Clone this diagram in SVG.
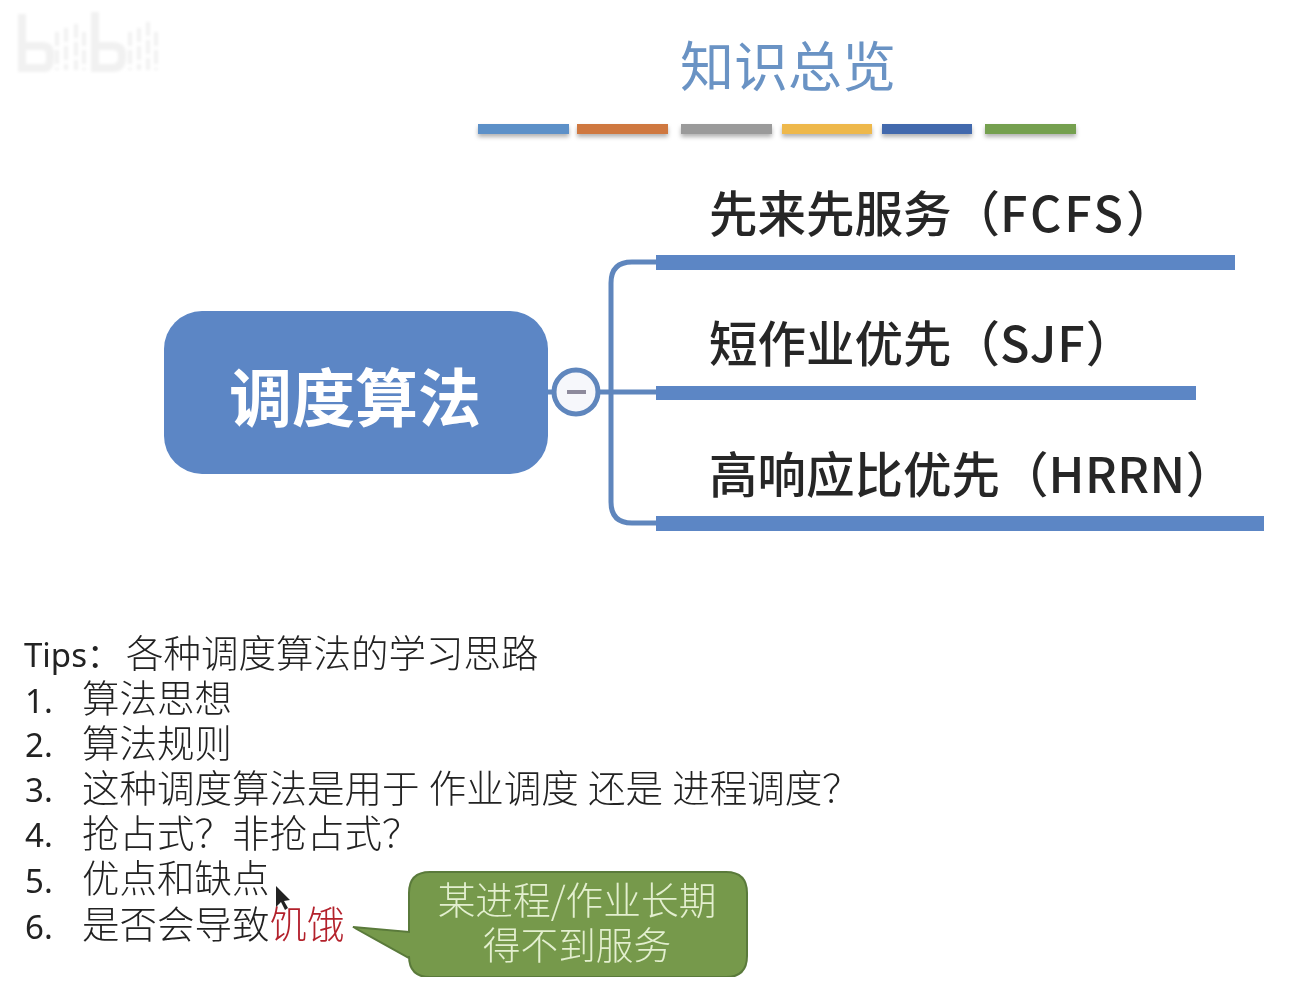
<svg xmlns="http://www.w3.org/2000/svg" width="1306" height="990" viewBox="0 0 1306 990">
<style>
text{font-family:"Noto Sans CJK SC","Noto Sans",sans-serif}
.branch{font-size:48.5px;fill:#262626;font-weight:500}
.tip{font-size:37.5px;fill:#222;font-weight:300}
.num{font-family:"Noto Sans","Noto Sans CJK SC",sans-serif;font-size:33px;fill:#222;font-weight:400}
.bar{filter:url(#sh)}
.link{fill:none;stroke:#5f86bd;stroke-width:5}
.ul{fill:#5b86c5}
.call{font-size:37.7px;fill:#e3efcf;font-weight:300;text-anchor:middle}
</style>
<defs>
<filter id="sh" x="-10%" y="-60%" width="120%" height="260%"><feDropShadow dx="0" dy="3" stdDeviation="2" flood-color="#000" flood-opacity=".3"/></filter>
<filter id="bl" x="-10%" y="-10%" width="120%" height="120%"><feGaussianBlur stdDeviation="1.5"/></filter>
<filter id="soft" x="0" y="0" width="100%" height="100%"><feGaussianBlur stdDeviation=".5"/></filter>
</defs>
<rect width="1306" height="990" fill="#fff"/>
<g id="watermark" filter="url(#bl)" fill="none" stroke="#f1f1f1">
<path stroke-width="8" d="M22 14V68H44Q50 68 50 58V54Q50 46 42 46H24"/>
<path stroke-width="4" stroke-dasharray="14 4" d="M57 32V70M66 28V70M76 24V70M84 32V70"/>
<path stroke-width="8" d="M95 12V68H112Q122 68 122 58V54Q122 46 112 46H98"/>
<path stroke-width="4" stroke-dasharray="14 4" d="M130 32V70M139 28V70M148 22V70M156 32V70"/>
</g>
<g id="content" filter="url(#soft)">
<g id="title">
<text x="680" y="87" font-size="54" fill="#6a93c4">知识总览</text>
<rect class="bar" x="478" y="124" width="91" height="10" fill="#5b90c8"/>
<rect class="bar" x="577" y="124" width="91" height="10" fill="#cf7840"/>
<rect class="bar" x="681" y="124" width="91" height="10" fill="#9a9a9a"/>
<rect class="bar" x="782" y="124" width="90" height="10" fill="#eeb84c"/>
<rect class="bar" x="882" y="124" width="90" height="10" fill="#4369ad"/>
<rect class="bar" x="985" y="124" width="91" height="10" fill="#74a04f"/>
</g>
<g id="connectors">
<path class="link" d="M548 392H552"/>
<path class="link" d="M600 392H656"/>
<path class="link" d="M656 262H632Q611 262 611 283V502Q611 523 632 523H656"/>
</g>
<g id="root">
<rect x="164" y="311" width="384" height="163" rx="38" fill="#5b86c5"/>
<text x="355" y="421" font-size="63" font-weight="700" fill="#fff" text-anchor="middle">调度算法</text>
</g>
<g id="collapse">
<circle cx="576" cy="392" r="22" fill="#f6f7fb" stroke="#5f86bd" stroke-width="5"/>
<rect x="567" y="390" width="19" height="4" fill="#8d8a9c"/>
</g>
<g id="fcfs">
<text class="branch" x="709" y="232">先来先服务（<tspan letter-spacing="3">FCFS</tspan>）</text>
<rect class="ul" x="656" y="255" width="579" height="15"/>
</g>
<g id="sjf">
<text class="branch" x="709" y="362">短作业优先（<tspan letter-spacing="1">SJF</tspan>）</text>
<rect class="ul" x="656" y="386" width="540" height="14"/>
</g>
<g id="hrrn">
<text class="branch" x="709" y="493">高响应比优先（<tspan letter-spacing=".5">HRRN</tspan>）</text>
<rect class="ul" x="656" y="516" width="608" height="15"/>
</g>
<g id="tips">
<text class="num" x="24" y="667">Tips：</text><text class="tip" x="126" y="667">各种调度算法的学习思路</text>
<text class="num" x="25" y="713">1.</text><text class="tip" x="82" y="712">算法思想</text>
<text class="num" x="25" y="757">2.</text><text class="tip" x="82" y="757">算法规则</text>
<text class="num" x="25" y="802">3.</text><text class="tip" x="82" y="802" word-spacing="1">这种调度算法是用于 作业调度 还是 进程调度？</text>
<text class="num" x="25" y="847">4.</text><text class="tip" x="82" y="847">抢占式？非抢占式？</text>
<text class="num" x="25" y="893">5.</text><text class="tip" x="82" y="892">优点和缺点</text>
<text class="num" x="25" y="939">6.</text><text class="tip" x="82" y="938">是否会导致<tspan fill="#b3202c">饥饿</tspan></text>
</g>
<path id="cursor" d="M276 886V907L281 902L285 910L288 908L284 901L290 900Z" fill="#222"/>
<g id="callout">
<path d="M430 872H726Q747 872 747 893V956Q747 977 726 977H430Q409 977 409 956V958L353 927L409 932V893Q409 872 430 872Z" fill="#76994b" stroke="#5a7a3a" stroke-width="2"/>
<text class="call" x="577" y="914">某进程/作业长期</text>
<text class="call" x="577" y="959">得不到服务</text>
</g>
</g>
</svg>
